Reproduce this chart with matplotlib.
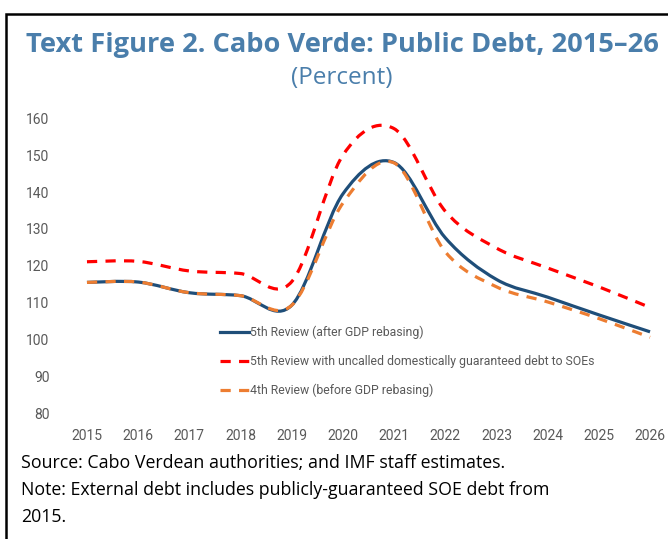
import numpy as np
import matplotlib
matplotlib.use('Agg')
import matplotlib.pyplot as plt
from matplotlib.path import Path
from matplotlib.patches import PathPatch
from matplotlib.lines import Line2D

# Public debt, percent of GDP
years = [2015, 2016, 2017, 2018, 2019, 2020, 2021, 2022, 2023, 2024, 2025, 2026]
fifth_review = [115.5, 115.6, 112.7, 111.9, 109.3, 139.5, 148.0, 127.6, 116.3, 111.5, 106.7, 102.1]
fifth_uncalled = [121.1, 121.2, 118.6, 117.9, 115.7, 150.0, 157.2, 134.8, 124.8, 119.4, 114.3, 108.7]
fourth_review = [115.5, 115.6, 112.7, 111.9, 109.3, 137.0, 147.9, 123.8, 114.3, 110.2, 105.7, 100.6]

labels = ['5th Review (after GDP rebasing)',
          '5th Review with uncalled domestically guaranteed debt to SOEs',
          '4th Review (before GDP rebasing)']

TITLE_BLUE = '#4a7eab'
GREY = '#595959'
NARROW = ['Liberation Sans Narrow', 'Roboto', 'DejaVu Sans']
SANS = ['Open Sans', 'DejaVu Sans']


def smooth_path(x, y):
    """Excel-style smoothed line as cubic Bezier path (Catmull-Rom, tension 1/6)"""
    x = np.asarray(x, float)
    y = np.asarray(y, float)
    pts = np.column_stack([x, y])
    n = len(pts)
    verts = [pts[0]]
    codes = [Path.MOVETO]
    for i in range(n - 1):
        p0 = pts[i - 1] if i > 0 else pts[i]
        p1 = pts[i]
        p2 = pts[i + 1]
        p3 = pts[i + 2] if i + 2 < n else pts[i + 1]
        c1 = p1 + (p2 - p0) / 6.0
        c2 = p2 - (p3 - p1) / 6.0
        verts += [c1, c2, p2]
        codes += [Path.CURVE4] * 3
    return Path(verts, codes)


fig = plt.figure(figsize=(6.68, 5.39), dpi=100)
ax = fig.add_axes([0.1302, 0.2332, 0.9731 - 0.1302, 0.7805 - 0.2332])

lw = 2.3
dash = (0, (3.2, 2.6))
styles = [
    dict(color='#1f4e79', ls='-', z=3),
    dict(color='#ff0000', ls=dash, z=5),
    dict(color='#ed7d31', ls=dash, z=4),
]
series = [fifth_review, fifth_uncalled, fourth_review]
for vals, st in zip(series, styles):
    patch = PathPatch(smooth_path(years, vals), fill=False, edgecolor=st['color'],
                      linewidth=lw, linestyle=st['ls'], zorder=st['z'],
                      clip_on=False, capstyle='butt', joinstyle='round')
    ax.add_patch(patch)

ax.set_xlim(2015, 2026)
ax.set_ylim(80, 160)
ax.set_xticks(years)
ax.set_yticks(range(80, 161, 10))
ax.tick_params(axis='both', length=0, labelsize=10, labelcolor=GREY)
ax.tick_params(axis='y', pad=27)
ax.tick_params(axis='x', pad=11)
for lab in ax.get_xticklabels() + ax.get_yticklabels():
    lab.set_family(NARROW)
for s in ax.spines.values():
    s.set_visible(False)

handles = [Line2D([], [], color=st['color'], lw=lw, ls=st['ls']) for st in styles]
leg = ax.legend(handles, labels, loc='upper left', bbox_to_anchor=(0.236, 0.297),
                frameon=False, borderpad=0, borderaxespad=0, handlelength=2.35,
                handletextpad=0.15, labelspacing=1.3,
                prop={'family': NARROW, 'size': 8.8})
for t in leg.get_texts():
    t.set_color(GREY)

# titles
fig.text(0.5128, 1 - 52 / 539, 'Text Figure 2. Cabo Verde: Public Debt, 2015\u201326',
         ha='center', va='baseline', fontsize=19.6, fontweight='bold',
         color=TITLE_BLUE, family=SANS)
fig.text(0.512, 1 - 84 / 539, '(Percent)', ha='center', va='baseline',
         fontsize=17.5, color=TITLE_BLUE, family=SANS)

# notes
notes = ['Source: Cabo Verdean authorities; and IMF staff estimates.',
         'Note: External debt includes publicly-guaranteed SOE debt from',
         '2015.']
for i, line in enumerate(notes):
    fig.text(21 / 668, 1 - (468 + 27 * i) / 539, line, ha='left', va='baseline',
             fontsize=12.8, color='black', family=SANS)

# frame (left and top edges)
bx = 6 / 668
by = 1 - 14 / 539
fig.add_artist(Line2D([bx, bx, 1.0], [0.0, by, by], color='black', lw=1.8,
                      transform=fig.transFigure, solid_joinstyle='miter'))

fig.savefig('out.png', dpi=100)
